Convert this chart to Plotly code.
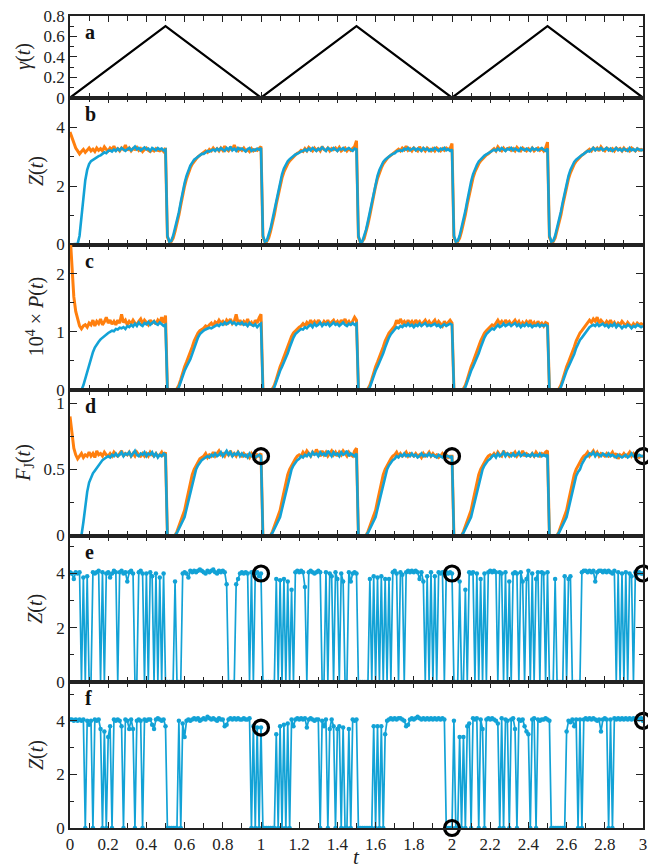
import plotly.graph_objects as go

# ---------------- data ----------------
t_step = 0.01
n_pts = 301
t = [round(i * t_step, 2) for i in range(n_pts)]

gamma_t = [0, 0.5, 1.0, 1.5, 2.0, 2.5, 3.0]
gamma_v = [0, 0.7, 0, 0.7, 0, 0.7, 0]

Zb_orange = [
    3.85, 3.65, 3.45, 3.3, 3.2, 3.1, 3.18, 3.25, 3.15, 3.22,
    3.3, 3.2, 3.26, 3.18, 3.3, 3.22, 3.28, 3.2, 3.34, 3.25,
    3.2, 3.3, 3.25, 3.36, 3.22, 3.28, 3.2, 3.3, 3.25, 3.4,
    3.22, 3.3, 3.2, 3.28, 3.25, 3.32, 3.22, 3.28, 3.18, 3.25,
    3.3, 3.22, 3.18, 3.25, 3.2, 3.28, 3.22, 3.2, 3.25, 3.18,
    3.3, 0.25, 0.1, 0.1, 0.22, 0.45, 0.7, 1.0, 1.35, 1.7,
    2.0, 2.25, 2.45, 2.62, 2.75, 2.85, 2.92, 3.0, 3.05, 3.1,
    3.12, 3.2, 3.15, 3.25, 3.2, 3.3, 3.22, 3.28, 3.2, 3.3,
    3.22, 3.36, 3.25, 3.2, 3.3, 3.22, 3.4, 3.25, 3.2, 3.28,
    3.22, 3.3, 3.2, 3.25, 3.18, 3.28, 3.2, 3.25, 3.22, 3.3,
    3.35, 0.25, 0.1, 0.1, 0.22, 0.45, 0.72, 1.02, 1.38, 1.72,
    2.02, 2.28, 2.48, 2.64, 2.76, 2.86, 2.94, 3.0, 3.06, 3.12,
    3.15, 3.22, 3.18, 3.28, 3.2, 3.32, 3.24, 3.2, 3.3, 3.22,
    3.28, 3.2, 3.35, 3.25, 3.22, 3.3, 3.2, 3.28, 3.24, 3.3,
    3.22, 3.32, 3.2, 3.26, 3.3, 3.2, 3.28, 3.22, 3.3, 3.35,
    3.55, 0.25, 0.08, 0.1, 0.2, 0.42, 0.7, 1.0, 1.35, 1.7,
    2.0, 2.26, 2.46, 2.62, 2.76, 2.86, 2.94, 3.0, 3.05, 3.1,
    3.15, 3.2, 3.26, 3.2, 3.3, 3.24, 3.36, 3.22, 3.28, 3.2,
    3.3, 3.25, 3.2, 3.34, 3.22, 3.28, 3.2, 3.3, 3.25, 3.2,
    3.28, 3.2, 3.3, 3.24, 3.2, 3.28, 3.22, 3.3, 3.25, 3.28,
    3.45, 0.25, 0.1, 0.1, 0.22, 0.45, 0.72, 1.02, 1.38, 1.72,
    2.02, 2.28, 2.48, 2.64, 2.76, 2.86, 2.94, 3.0, 3.06, 3.1,
    3.15, 3.22, 3.28, 3.2, 3.34, 3.25, 3.2, 3.3, 3.22, 3.28,
    3.3, 3.22, 3.28, 3.2, 3.32, 3.25, 3.2, 3.3, 3.24, 3.2,
    3.28, 3.22, 3.3, 3.2, 3.26, 3.3, 3.22, 3.28, 3.2, 3.3,
    3.5, 0.25, 0.1, 0.1, 0.22, 0.45, 0.7, 1.0, 1.35, 1.68,
    1.98, 2.25, 2.45, 2.62, 2.75, 2.85, 2.92, 3.0, 3.05, 3.1,
    3.15, 3.2, 3.26, 3.2, 3.3, 3.24, 3.3, 3.2, 3.34, 3.25,
    3.2, 3.3, 3.25, 3.22, 3.28, 3.2, 3.3, 3.24, 3.28, 3.2,
    3.3, 3.22, 3.26, 3.2, 3.3, 3.25, 3.2, 3.28, 3.22, 3.25,
    3.22,
]

Zb_blue = [
    0, 0, 0, 0, 0.02, 0.3, 1.0, 1.7, 2.2, 2.55,
    2.75, 2.85, 2.9, 2.95, 3.0, 3.02, 3.05, 3.1, 3.15, 3.12,
    3.2, 3.22, 3.18, 3.25, 3.2, 3.28, 3.22, 3.3, 3.24, 3.2,
    3.26, 3.3, 3.22, 3.28, 3.35, 3.25, 3.3, 3.22, 3.27, 3.32,
    3.25, 3.28, 3.2, 3.3, 3.26, 3.22, 3.3, 3.25, 3.28, 3.22,
    3.25, 0.3, 0.1, 0.12, 0.3, 0.55, 0.8, 1.1, 1.45, 1.8,
    2.1, 2.35, 2.55, 2.7, 2.8, 2.9, 2.95, 3.0, 3.05, 3.1,
    3.1, 3.15, 3.2, 3.18, 3.22, 3.25, 3.2, 3.28, 3.22, 3.3,
    3.25, 3.2, 3.3, 3.24, 3.35, 3.22, 3.28, 3.2, 3.3, 3.25,
    3.28, 3.22, 3.18, 3.26, 3.3, 3.2, 3.25, 3.22, 3.28, 3.24,
    3.3, 0.3, 0.1, 0.12, 0.3, 0.55, 0.85, 1.15, 1.5, 1.85,
    2.15, 2.4, 2.6, 2.75, 2.85, 2.92, 2.98, 3.02, 3.08, 3.1,
    3.15, 3.18, 3.2, 3.25, 3.2, 3.28, 3.22, 3.3, 3.25, 3.2,
    3.28, 3.24, 3.32, 3.25, 3.2, 3.3, 3.26, 3.22, 3.3, 3.25,
    3.2, 3.28, 3.25, 3.3, 3.22, 3.26, 3.3, 3.24, 3.2, 3.28,
    3.25, 0.3, 0.08, 0.1, 0.28, 0.5, 0.8, 1.1, 1.45, 1.8,
    2.1, 2.35, 2.55, 2.7, 2.82, 2.9, 2.96, 3.02, 3.06, 3.1,
    3.12, 3.18, 3.2, 3.22, 3.2, 3.28, 3.24, 3.3, 3.22, 3.26,
    3.3, 3.22, 3.28, 3.25, 3.2, 3.3, 3.24, 3.28, 3.2, 3.26,
    3.22, 3.3, 3.25, 3.2, 3.28, 3.24, 3.3, 3.22, 3.26, 3.2,
    3.25, 0.3, 0.1, 0.12, 0.3, 0.55, 0.85, 1.15, 1.5, 1.85,
    2.15, 2.4, 2.58, 2.72, 2.84, 2.92, 2.98, 3.04, 3.08, 3.12,
    3.15, 3.2, 3.24, 3.2, 3.28, 3.22, 3.3, 3.25, 3.2, 3.28,
    3.24, 3.3, 3.22, 3.28, 3.25, 3.2, 3.3, 3.26, 3.22, 3.28,
    3.25, 3.2, 3.3, 3.24, 3.28, 3.22, 3.26, 3.3, 3.24, 3.2,
    3.28, 0.3, 0.1, 0.12, 0.3, 0.55, 0.82, 1.12, 1.45, 1.78,
    2.08, 2.35, 2.55, 2.7, 2.82, 2.9, 2.96, 3.02, 3.06, 3.1,
    3.14, 3.2, 3.18, 3.24, 3.3, 3.22, 3.28, 3.25, 3.3, 3.22,
    3.26, 3.3, 3.22, 3.28, 3.2, 3.25, 3.3, 3.22, 3.26, 3.2,
    3.28, 3.24, 3.2, 3.3, 3.22, 3.26, 3.2, 3.28, 3.24, 3.22,
    3.25,
]

P_orange = [
    2.7, 2.1, 1.6, 1.35, 1.2, 1.1, 1.05, 1.1, 1.12, 1.08,
    1.15, 1.12, 1.2, 1.1, 1.18, 1.14, 1.22, 1.12, 1.17, 1.25,
    1.15, 1.2, 1.13, 1.18, 1.12, 1.2, 1.15, 1.3, 1.16, 1.2,
    1.12, 1.18, 1.14, 1.2, 1.15, 1.12, 1.18, 1.22, 1.14, 1.2,
    1.16, 1.12, 1.2, 1.15, 1.18, 1.13, 1.2, 1.16, 1.25, 1.15,
    1.28, 0.02, 0, 0, 0, 0, 0.02, 0.08, 0.18, 0.3,
    0.4, 0.48, 0.56, 0.64, 0.74, 0.84, 0.92, 0.98, 1.02, 1.04,
    1.06, 1.1, 1.08, 1.12, 1.15, 1.1, 1.17, 1.14, 1.2, 1.15,
    1.18, 1.12, 1.2, 1.16, 1.22, 1.14, 1.18, 1.3, 1.15, 1.2,
    1.12, 1.18, 1.14, 1.22, 1.12, 1.16, 1.1, 1.2, 1.15, 1.24,
    1.3, 0.02, 0, 0, 0, 0, 0.02, 0.08, 0.18, 0.3,
    0.4, 0.48, 0.57, 0.65, 0.75, 0.84, 0.92, 0.98, 1.02, 1.05,
    1.08, 1.1, 1.14, 1.1, 1.16, 1.12, 1.2, 1.14, 1.18, 1.12,
    1.2, 1.15, 1.12, 1.18, 1.14, 1.2, 1.12, 1.17, 1.2, 1.14,
    1.18, 1.12, 1.2, 1.15, 1.22, 1.14, 1.18, 1.12, 1.2, 1.25,
    1.2, 0.02, 0, 0, 0, 0, 0.02, 0.08, 0.18, 0.3,
    0.4, 0.48, 0.56, 0.64, 0.74, 0.84, 0.92, 0.98, 1.02, 1.06,
    1.1, 1.2, 1.14, 1.22, 1.15, 1.18, 1.12, 1.2, 1.14, 1.18,
    1.12, 1.2, 1.15, 1.18, 1.12, 1.16, 1.2, 1.14, 1.18, 1.12,
    1.16, 1.2, 1.12, 1.18, 1.14, 1.1, 1.18, 1.12, 1.16, 1.2,
    1.15, 0.02, 0, 0, 0, 0, 0.02, 0.08, 0.18, 0.3,
    0.4, 0.48, 0.56, 0.65, 0.75, 0.84, 0.92, 0.98, 1.02, 1.05,
    1.08, 1.12, 1.1, 1.16, 1.2, 1.14, 1.18, 1.12, 1.2, 1.15,
    1.18, 1.12, 1.16, 1.2, 1.14, 1.18, 1.1, 1.16, 1.12, 1.18,
    1.14, 1.2, 1.12, 1.16, 1.1, 1.18, 1.12, 1.15, 1.1, 1.16,
    1.14, 0.02, 0, 0, 0, 0, 0.02, 0.08, 0.18, 0.3,
    0.4, 0.48, 0.56, 0.64, 0.74, 0.84, 0.92, 0.98, 1.02, 1.06,
    1.1, 1.14, 1.2, 1.16, 1.22, 1.18, 1.25, 1.15, 1.2, 1.16,
    1.12, 1.18, 1.14, 1.2, 1.12, 1.16, 1.1, 1.15, 1.12, 1.18,
    1.14, 1.1, 1.16, 1.12, 1.08, 1.14, 1.1, 1.15, 1.12, 1.14,
    1.12,
]

P_blue = [
    0, 0, 0, 0, 0, 0, 0, 0.08, 0.2, 0.32,
    0.43, 0.55, 0.65, 0.73, 0.79, 0.83, 0.87, 0.9, 0.93, 0.96,
    0.98, 1.0, 1.02, 1.01, 1.05, 1.04, 1.07, 1.06, 1.08, 1.05,
    1.1, 1.08, 1.12, 1.09, 1.14, 1.1, 1.16, 1.12, 1.1, 1.15,
    1.13, 1.17, 1.12, 1.15, 1.18, 1.14, 1.12, 1.16, 1.13, 1.1,
    1.12, 0.02, 0, 0, 0, 0, 0, 0.05, 0.15, 0.25,
    0.33, 0.4, 0.46, 0.53, 0.62, 0.72, 0.82, 0.9, 0.96, 1.0,
    1.02, 1.04, 1.05, 1.07, 1.06, 1.08, 1.1, 1.12, 1.1, 1.14,
    1.12, 1.16, 1.13, 1.15, 1.18, 1.14, 1.16, 1.12, 1.15, 1.13,
    1.16, 1.12, 1.14, 1.1, 1.15, 1.12, 1.1, 1.13, 1.08, 1.12,
    1.14, 0.02, 0, 0, 0, 0, 0, 0.05, 0.15, 0.25,
    0.33, 0.4, 0.47, 0.54, 0.63, 0.73, 0.82, 0.9, 0.96, 1.0,
    1.02, 1.05, 1.04, 1.08, 1.06, 1.1, 1.12, 1.08, 1.14, 1.1,
    1.12, 1.16, 1.1, 1.14, 1.12, 1.15, 1.1, 1.13, 1.16, 1.12,
    1.14, 1.1, 1.13, 1.16, 1.12, 1.1, 1.14, 1.12, 1.15, 1.12,
    1.14, 0.02, 0, 0, 0, 0, 0, 0.05, 0.15, 0.25,
    0.33, 0.4, 0.47, 0.54, 0.63, 0.73, 0.82, 0.9, 0.96, 1.0,
    1.02, 1.08, 1.06, 1.1, 1.08, 1.12, 1.1, 1.14, 1.1, 1.12,
    1.08, 1.12, 1.1, 1.14, 1.1, 1.12, 1.15, 1.1, 1.12, 1.1,
    1.12, 1.14, 1.1, 1.12, 1.08, 1.1, 1.13, 1.1, 1.12, 1.14,
    1.12, 0.02, 0, 0, 0, 0, 0, 0.05, 0.15, 0.25,
    0.33, 0.4, 0.47, 0.54, 0.63, 0.73, 0.82, 0.9, 0.96, 1.0,
    1.03, 1.06, 1.04, 1.08, 1.12, 1.08, 1.1, 1.14, 1.1, 1.12,
    1.14, 1.1, 1.12, 1.15, 1.1, 1.13, 1.08, 1.12, 1.1, 1.14,
    1.1, 1.12, 1.08, 1.11, 1.1, 1.13, 1.09, 1.12, 1.1, 1.12,
    1.1, 0.02, 0, 0, 0, 0, 0, 0.05, 0.15, 0.25,
    0.33, 0.4, 0.47, 0.54, 0.62, 0.72, 0.8, 0.86, 0.9, 0.95,
    1.0, 1.03, 1.08, 1.1, 1.12, 1.1, 1.14, 1.1, 1.12, 1.14,
    1.1, 1.12, 1.08, 1.12, 1.1, 1.14, 1.08, 1.12, 1.1, 1.06,
    1.1, 1.08, 1.12, 1.1, 1.06, 1.1, 1.08, 1.12, 1.1, 1.08,
    1.1,
]

Fj_orange = [
    0.9, 0.76, 0.66, 0.61, 0.58, 0.6, 0.62, 0.59, 0.61, 0.6,
    0.63, 0.6, 0.62, 0.59, 0.64, 0.61, 0.62, 0.6, 0.63, 0.61,
    0.6, 0.62, 0.6, 0.63, 0.61, 0.6, 0.62, 0.64, 0.6, 0.62,
    0.61, 0.63, 0.6, 0.62, 0.6, 0.63, 0.61, 0.6, 0.62, 0.6,
    0.62, 0.6, 0.63, 0.61, 0.6, 0.62, 0.6, 0.61, 0.63, 0.6,
    0.63, 0, 0, 0, 0, 0, 0.03, 0.07, 0.1, 0.14,
    0.19, 0.26, 0.33, 0.4, 0.46, 0.5, 0.53, 0.56, 0.58, 0.59,
    0.6, 0.62, 0.59, 0.61, 0.6, 0.63, 0.6, 0.62, 0.64, 0.61,
    0.62, 0.6, 0.63, 0.61, 0.64, 0.6, 0.62, 0.6, 0.63, 0.61,
    0.6, 0.62, 0.6, 0.61, 0.59, 0.62, 0.6, 0.58, 0.61, 0.6,
    0.62, 0, 0, 0, 0, 0, 0.03, 0.07, 0.1, 0.14,
    0.19, 0.26, 0.33, 0.4, 0.46, 0.5, 0.53, 0.56, 0.58, 0.6,
    0.61, 0.6, 0.63, 0.61, 0.64, 0.62, 0.6, 0.63, 0.61, 0.65,
    0.62, 0.6, 0.64, 0.61, 0.63, 0.6, 0.62, 0.64, 0.61, 0.63,
    0.6, 0.63, 0.61, 0.64, 0.62, 0.6, 0.63, 0.61, 0.6, 0.64,
    0.66, 0, 0, 0, 0, 0, 0.03, 0.07, 0.1, 0.14,
    0.19, 0.26, 0.33, 0.4, 0.46, 0.5, 0.53, 0.56, 0.58, 0.6,
    0.61, 0.63, 0.6, 0.62, 0.6, 0.61, 0.63, 0.6, 0.62, 0.61,
    0.6, 0.62, 0.6, 0.61, 0.59, 0.62, 0.6, 0.61, 0.63, 0.6,
    0.62, 0.6, 0.61, 0.59, 0.6, 0.62, 0.6, 0.61, 0.59, 0.6,
    0.6, 0, 0, 0, 0, 0, 0.03, 0.07, 0.1, 0.14,
    0.19, 0.26, 0.33, 0.4, 0.46, 0.5, 0.53, 0.56, 0.58, 0.6,
    0.61, 0.6, 0.62, 0.6, 0.63, 0.61, 0.6, 0.64, 0.61, 0.62,
    0.6, 0.62, 0.61, 0.63, 0.6, 0.62, 0.61, 0.64, 0.6, 0.62,
    0.61, 0.6, 0.62, 0.6, 0.63, 0.61, 0.6, 0.62, 0.61, 0.63,
    0.64, 0, 0, 0, 0, 0, 0.03, 0.07, 0.1, 0.14,
    0.19, 0.26, 0.33, 0.4, 0.46, 0.5, 0.53, 0.56, 0.58, 0.6,
    0.61, 0.63, 0.6, 0.62, 0.64, 0.61, 0.63, 0.6, 0.62, 0.61,
    0.6, 0.62, 0.6, 0.61, 0.63, 0.6, 0.62, 0.58, 0.61, 0.6,
    0.62, 0.6, 0.61, 0.63, 0.6, 0.62, 0.6, 0.61, 0.59, 0.6,
    0.6,
]

Fj_blue = [
    0, 0, 0, 0, 0, 0, 0, 0.1, 0.22, 0.33,
    0.4, 0.44, 0.47, 0.49, 0.51, 0.53, 0.55, 0.57, 0.58, 0.59,
    0.6, 0.59, 0.61, 0.6, 0.62, 0.6, 0.61, 0.63, 0.6, 0.62,
    0.61, 0.63, 0.6, 0.62, 0.64, 0.61, 0.6, 0.62, 0.61, 0.63,
    0.6, 0.62, 0.61, 0.63, 0.6, 0.62, 0.59, 0.61, 0.6, 0.62,
    0.61, 0, 0, 0, 0, 0, 0.02, 0.05, 0.08, 0.11,
    0.14, 0.2, 0.26, 0.33, 0.4, 0.46, 0.5, 0.53, 0.55, 0.57,
    0.58, 0.59, 0.6, 0.59, 0.61, 0.6, 0.62, 0.6, 0.61, 0.63,
    0.6, 0.62, 0.64, 0.61, 0.63, 0.6, 0.62, 0.61, 0.63, 0.6,
    0.62, 0.6, 0.61, 0.59, 0.62, 0.6, 0.61, 0.59, 0.6, 0.61,
    0.6, 0, 0, 0, 0, 0, 0.02, 0.05, 0.08, 0.11,
    0.14, 0.2, 0.26, 0.33, 0.4, 0.46, 0.5, 0.53, 0.55, 0.57,
    0.58, 0.6, 0.59, 0.61, 0.6, 0.62, 0.6, 0.63, 0.61, 0.62,
    0.6, 0.63, 0.61, 0.62, 0.6, 0.64, 0.62, 0.6, 0.63, 0.61,
    0.62, 0.6, 0.63, 0.61, 0.62, 0.64, 0.6, 0.62, 0.61, 0.6,
    0.62, 0, 0, 0, 0, 0, 0.02, 0.05, 0.08, 0.11,
    0.14, 0.2, 0.26, 0.33, 0.4, 0.46, 0.5, 0.53, 0.55, 0.57,
    0.58, 0.6, 0.59, 0.61, 0.6, 0.62, 0.6, 0.61, 0.6, 0.62,
    0.6, 0.61, 0.59, 0.6, 0.62, 0.6, 0.61, 0.6, 0.62, 0.6,
    0.61, 0.6, 0.59, 0.61, 0.6, 0.59, 0.61, 0.6, 0.6, 0.59,
    0.6, 0, 0, 0, 0, 0, 0.02, 0.05, 0.08, 0.11,
    0.14, 0.2, 0.26, 0.33, 0.4, 0.46, 0.5, 0.53, 0.55, 0.57,
    0.58, 0.6, 0.61, 0.59, 0.62, 0.6, 0.61, 0.63, 0.6, 0.62,
    0.61, 0.6, 0.62, 0.6, 0.61, 0.63, 0.6, 0.61, 0.62, 0.6,
    0.61, 0.6, 0.62, 0.6, 0.61, 0.6, 0.62, 0.6, 0.61, 0.6,
    0.61, 0, 0, 0, 0, 0, 0.02, 0.05, 0.08, 0.11,
    0.14, 0.2, 0.26, 0.33, 0.4, 0.45, 0.48, 0.5, 0.54, 0.57,
    0.59, 0.6, 0.62, 0.61, 0.63, 0.6, 0.62, 0.61, 0.6, 0.62,
    0.61, 0.6, 0.62, 0.6, 0.61, 0.6, 0.59, 0.61, 0.6, 0.59,
    0.6, 0.61, 0.59, 0.6, 0.62, 0.6, 0.59, 0.6, 0.61, 0.6,
    0.6,
]

Ze = [
    4.05, 4.0, 3.8, 4.05, 4.0, 4.05, 0, 3.85, 0, 3.9,
    0, 0, 4.05, 4.0, 4.05, 4.1, 0, 4.05, 0, 4.0,
    4.05, 3.85, 4.0, 4.1, 4.05, 0, 4.05, 4.1, 4.0, 4.05,
    3.7, 4.05, 4.1, 4.0, 0, 0, 4.05, 4.1, 4.0, 0,
    4.0, 0, 4.05, 3.9, 0, 4.0, 0, 3.85, 0, 4.0,
    0, 0, 0, 0, 0, 3.7, 0, 0, 0, 4.0,
    4.05, 4.0, 3.85, 4.1, 4.05, 4.1, 4.05, 4.1, 4.15, 4.1,
    4.05, 4.0, 4.1, 4.05, 4.1, 4.15, 4.05, 4.0, 4.1, 4.05,
    4.1, 4.05, 3.6, 0, 0, 0, 0, 3.6, 3.8, 4.0,
    4.05, 4.0, 4.05, 4.0, 0, 4.05, 0, 4.0, 4.05, 3.9,
    4.0, 0, 0, 0, 0, 0, 0, 0, 3.8, 0,
    3.75, 0, 3.8, 0, 3.7, 0, 3.4, 0, 4.05, 4.1,
    4.05, 4.1, 4.05, 3.5, 0, 4.05, 4.1, 4.05, 4.0, 4.05,
    4.1, 4.05, 0, 0, 4.05, 0, 4.0, 3.9, 0, 4.05,
    3.8, 0, 4.0, 3.7, 0, 0, 4.05, 3.7, 4.0, 4.05,
    4.0, 0, 0, 0, 0, 0, 0, 3.8, 0, 3.9,
    0, 3.85, 0, 3.9, 0, 3.8, 0, 3.8, 0, 4.05,
    4.1, 4.0, 0, 4.05, 3.95, 0, 4.05, 4.1, 4.05, 4.1,
    4.05, 4.1, 4.05, 3.8, 4.05, 3.7, 0, 3.9, 0, 4.05,
    0, 3.9, 0, 4.05, 4.0, 4.05, 0, 4.05, 4.0, 4.05,
    4.0, 0, 0, 0, 3.7, 0, 0, 3.4, 0, 4.05,
    4.0, 4.05, 0, 4.0, 0, 3.8, 0, 4.0, 0, 4.05,
    4.1, 4.05, 4.1, 4.05, 0, 4.05, 4.0, 0, 4.05, 0,
    3.7, 0, 4.0, 4.05, 4.0, 0, 4.05, 3.7, 0, 3.8,
    4.1, 0, 4.0, 0, 3.8, 4.05, 0, 4.05, 4.0, 0,
    4.05, 0, 0, 0, 3.8, 0, 0, 0, 0, 3.9,
    0, 3.8, 3.9, 0, 0, 0, 0, 0, 4.05, 4.1,
    4.1, 4.05, 4.1, 4.05, 4.1, 3.7, 4.05, 4.1, 4.1, 4.05,
    4.1, 4.05, 4.1, 4.05, 4.0, 4.1, 0, 4.05, 0, 4.0,
    0, 4.05, 0, 4.0, 3.9, 0, 4.05, 4.0, 4.05, 4.0,
    4.0,
]

Zf = [
    4.05, 4.05, 4.0, 4.05, 4.0, 4.05, 4.0, 4.05, 0, 4.0,
    3.85, 4.0, 0, 4.05, 4.0, 4.05, 3.7, 0, 3.6, 0,
    3.4, 3.8, 0, 4.05, 4.0, 4.05, 4.0, 3.8, 0, 4.05,
    4.0, 3.7, 4.05, 3.7, 0, 4.0, 4.05, 4.0, 0, 4.05,
    4.0, 4.05, 4.05, 3.85, 3.7, 4.05, 4.1, 4.05, 4.0, 4.05,
    3.8, 0, 0, 0, 0, 0, 0, 4.0, 0, 3.9,
    3.4, 4.0, 4.05, 4.0, 4.05, 4.1, 4.05, 4.1, 4.0, 4.05,
    4.1, 4.05, 4.15, 4.1, 4.05, 4.1, 4.05, 4.0, 4.1, 4.05,
    4.05, 3.8, 3.85, 4.05, 4.1, 4.05, 4.1, 4.05, 4.1, 4.05,
    4.05, 4.1, 4.05, 4.05, 4.1, 0, 3.8, 0, 3.75, 0,
    3.75, 0, 0, 0, 0, 0, 0, 0, 3.5, 0,
    3.8, 0, 3.85, 0, 3.9, 0, 4.05, 3.8, 4.05, 4.1,
    4.05, 4.1, 4.05, 4.1, 3.75, 4.05, 4.1, 4.05, 4.0, 4.05,
    4.05, 0, 4.0, 3.8, 4.05, 0, 3.7, 4.05, 3.8, 0,
    3.7, 3.8, 0, 3.75, 0, 0, 3.7, 0, 4.05, 4.0,
    4.05, 0, 0, 0, 0, 0, 0, 0, 0, 3.8,
    0, 3.8, 0, 3.8, 0, 3.5, 4.0, 4.05, 4.1, 4.05,
    4.1, 4.05, 4.1, 4.1, 4.05, 4.0, 3.8, 3.85, 4.05, 4.1,
    4.05, 4.1, 4.15, 4.1, 4.05, 4.1, 4.05, 4.1, 4.05, 4.1,
    4.05, 4.1, 4.05, 4.1, 4.05, 4.1, 4.05, 0, 0, 0,
    0, 4.0, 0, 0, 3.4, 0, 3.4, 0, 3.8, 3.9,
    0, 4.1, 4.05, 4.1, 0, 4.05, 3.7, 0, 4.05, 4.1,
    4.05, 4.1, 4.05, 4.0, 3.9, 0, 4.1, 0, 4.05, 4.0,
    0, 4.05, 4.1, 3.7, 0, 4.05, 4.0, 4.05, 3.8, 3.6,
    3.5, 0, 4.05, 4.1, 0, 4.05, 4.0, 4.05, 4.05, 4.1,
    4.05, 4.0, 0, 0, 0, 0, 0, 0, 0, 0,
    3.6, 4.0, 3.95, 4.05, 3.8, 4.05, 0, 4.05, 0, 4.05,
    4.1, 4.05, 4.1, 4.05, 4.1, 4.05, 4.0, 4.05, 3.6, 4.05,
    4.1, 4.05, 0, 4.05, 0, 4.1, 4.05, 4.1, 4.05, 4.1,
    4.05, 4.1, 4.05, 4.1, 4.05, 4.1, 4.05, 4.1, 4.05, 4.1,
    4.0,
]

# times of the highlighted states (open circles)
circle_times_d = [1.0, 2.0, 3.0]
circle_times_e = [1.0, 2.0, 3.0]
circle_times_f = [1.0, 2.0, 3.0]

panel_letters = ["a", "b", "c", "d", "e", "f"]
y_titles = [
    "<i>γ</i>(<i>t</i>)",
    "<i>Z</i>(<i>t</i>)",
    "10<sup>4</sup> × <i>P</i>(<i>t</i>)",
    "<i>F</i><sub>J</sub>(<i>t</i>)",
    "<i>Z</i>(<i>t</i>)",
    "<i>Z</i>(<i>t</i>)",
]

# ---------------- style ----------------
ORANGE = "#FF7F0E"
BLUE = "#12A2D6"
INK = "#222"
FONT = "Liberation Serif, Times New Roman, serif"

def idx(tt):
    return int(round(tt / t_step))

fig = go.Figure()

def add(trace, k):
    trace.update(xaxis="x" if k == 1 else f"x{k}", yaxis="y" if k == 1 else f"y{k}")
    fig.add_trace(trace)

circle_marker = dict(symbol="circle-open", size=15, color="black", line=dict(width=3.2))

# a
add(go.Scatter(x=gamma_t, y=gamma_v, mode="lines", line=dict(color="black", width=2.2)), 1)
# b
add(go.Scatter(x=t, y=Zb_orange, mode="lines", line=dict(color=ORANGE, width=3)), 2)
add(go.Scatter(x=t, y=Zb_blue, mode="lines", line=dict(color=BLUE, width=2.6)), 2)
# c
add(go.Scatter(x=t, y=P_orange, mode="lines", line=dict(color=ORANGE, width=3)), 3)
add(go.Scatter(x=t, y=P_blue, mode="lines", line=dict(color=BLUE, width=2.6)), 3)
# d
add(go.Scatter(x=t, y=Fj_orange, mode="lines", line=dict(color=ORANGE, width=3)), 4)
add(go.Scatter(x=t, y=Fj_blue, mode="lines", line=dict(color=BLUE, width=2.6)), 4)
add(go.Scatter(x=circle_times_d, y=[Fj_blue[idx(c)] for c in circle_times_d], mode="markers",
               marker=circle_marker, cliponaxis=False), 4)
# e
add(go.Scatter(x=t, y=Ze, mode="lines+markers", line=dict(color=BLUE, width=1.7),
               marker=dict(color=BLUE, size=4.5)), 5)
add(go.Scatter(x=circle_times_e, y=[Ze[idx(c)] for c in circle_times_e], mode="markers",
               marker=circle_marker, cliponaxis=False), 5)
# f
add(go.Scatter(x=t, y=Zf, mode="lines+markers", line=dict(color=BLUE, width=1.7),
               marker=dict(color=BLUE, size=4.5)), 6)
add(go.Scatter(x=circle_times_f, y=[Zf[idx(c)] for c in circle_times_f], mode="markers",
               marker=circle_marker, cliponaxis=False), 6)

H_TOTAL = 812.0
bounds_px = [0, 81.7, 228.5, 374, 519.5, 666, 812]   # panel edges from plot top
domains = []
for k in range(6):
    top = 1 - bounds_px[k] / H_TOTAL
    bot = 1 - bounds_px[k + 1] / H_TOTAL
    domains.append([max(0, bot), min(1, top)])

y_specs = [
    dict(range=[0, 0.8], dtick=0.2, minor=0.1),
    dict(range=[0, 5.02], dtick=2, minor=1),
    dict(range=[0, 2.5], dtick=1, minor=0.5),
    dict(range=[0, 1.1], dtick=0.5, minor=0.25),
    dict(range=[0, 5.4], dtick=2, minor=1),
    dict(range=[0, 5.45], dtick=2, minor=1),
]
title_centers_px = [24, 36, 35, 25, 36, 36]   # horizontal centre of y titles

layout = dict(
    width=648, height=868,
    margin=dict(l=70, r=5, t=16, b=40),
    paper_bgcolor="white", plot_bgcolor="white",
    showlegend=False,
    font=dict(family=FONT, size=17, color=INK),
)

annotations = []
for k in range(6):
    xs = "xaxis" if k == 0 else f"xaxis{k+1}"
    ys = "yaxis" if k == 0 else f"yaxis{k+1}"
    xa = "x" if k == 0 else f"x{k+1}"
    ya = "y" if k == 0 else f"y{k+1}"
    spec = y_specs[k]
    layout[xs] = dict(
        domain=[0, 1], anchor=ya, range=[0, 3], automargin=False,
        showline=True, linecolor=INK, linewidth=1.5, mirror="ticks",
        ticks="inside", ticklen=6, tickwidth=1.3, tickcolor=INK,
        tick0=0, dtick=0.2,
        minor=dict(ticks="inside", ticklen=5, dtick=0.1, tick0=0, tickwidth=1.3, tickcolor=INK),
        showgrid=False, zeroline=False,
        showticklabels=(k == 5),
        tickfont=dict(family=FONT, size=17, color=INK),
    )
    if k > 0:
        layout[xs]["matches"] = "x"
    layout[ys] = dict(
        domain=domains[k], anchor=xa, range=spec["range"], automargin=False,
        showline=True, linecolor=INK, linewidth=1.5, mirror="ticks",
        ticks="inside", ticklen=7, tickwidth=1.3, tickcolor=INK,
        tick0=0, dtick=spec["dtick"],
        minor=dict(ticks="inside", ticklen=4, dtick=spec["minor"], tick0=0, tickwidth=1.3, tickcolor=INK),
        showgrid=False, zeroline=False,
        tickfont=dict(family=FONT, size=17, color=INK),
    )
    annotations.append(dict(
        text=f"<b>{panel_letters[k]}</b>", xref=f"{xa} domain", yref=f"{ya} domain",
        x=0.022, y=1, xanchor="left", yanchor="top", yshift=-3, showarrow=False,
        font=dict(family=FONT, size=20, color="#111"),
    ))
    annotations.append(dict(
        text=y_titles[k], xref="paper", yref=f"{ya} domain",
        x=0, y=0.5, xanchor="center", yanchor="middle", textangle=-90,
        xshift=title_centers_px[k] - 70, showarrow=False,
        font=dict(family=FONT, size=20, color=INK),
    ))
annotations.append(dict(
    text="<i>t</i>", xref="paper", yref="paper", x=0.5, y=-29 / H_TOTAL,
    xanchor="center", yanchor="middle", showarrow=False,
    font=dict(family=FONT, size=21, color=INK),
))
layout["annotations"] = annotations
fig.update_layout(**layout)

fig.write_html(
    "out.html",
    config={"displayModeBar": False},
    post_script="document.body.style.margin='0px';document.body.style.overflow='hidden';",
)
